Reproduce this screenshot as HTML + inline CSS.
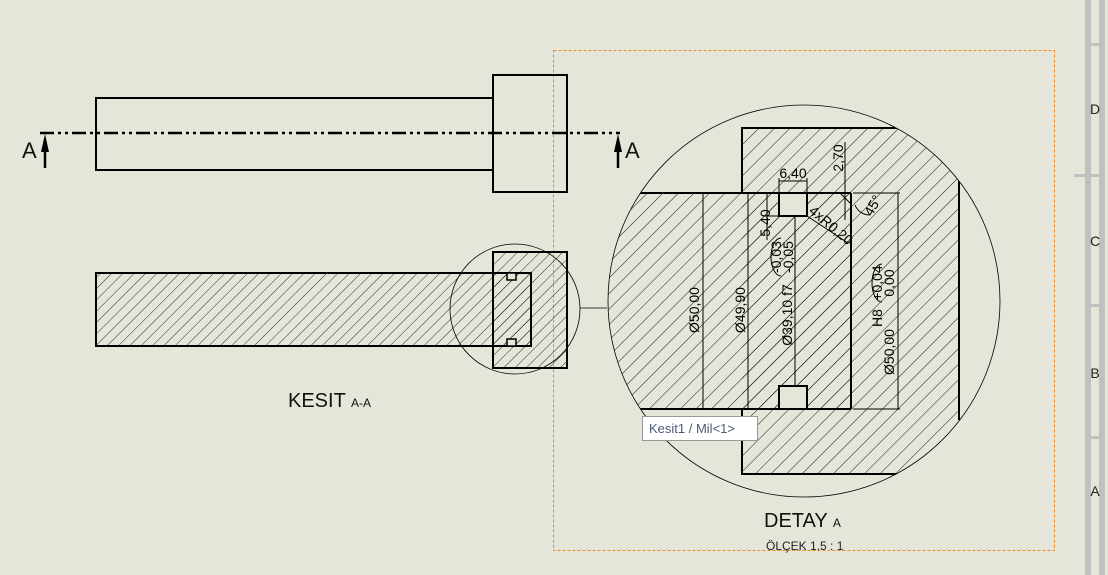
<!DOCTYPE html>
<html><head><meta charset="utf-8"><style>
html,body{margin:0;padding:0;background:#e6e5da;}
svg{display:block;font-family:"Liberation Sans",sans-serif;}
</style></head><body>
<svg width="1108" height="575" viewBox="0 0 1108 575" xmlns="http://www.w3.org/2000/svg">
<defs>
<pattern id="h1" patternUnits="userSpaceOnUse" width="8" height="8" patternTransform="rotate(45)">
<line x1="0" y1="0" x2="0" y2="8" stroke="#000" stroke-width="0.8"/></pattern>
<pattern id="h2" patternUnits="userSpaceOnUse" width="11" height="11" patternTransform="rotate(45)">
<line x1="0" y1="0" x2="0" y2="11" stroke="#000" stroke-width="0.9"/></pattern>
<clipPath id="dc"><circle cx="804" cy="301" r="196"/></clipPath>
</defs>
<rect width="1108" height="575" fill="#e6e5da"/>
<rect x="1085" y="0" width="6" height="575" fill="#c0c0c0"/>
<rect x="1099" y="0" width="6" height="575" fill="#c0c0c0"/>
<rect x="1091" y="43" width="8" height="3" fill="#c0c0c0"/>
<rect x="1074" y="174" width="25" height="3" fill="#c0c0c0"/>
<rect x="1091" y="304" width="8" height="3" fill="#c0c0c0"/>
<rect x="1091" y="436" width="8" height="3" fill="#c0c0c0"/>
<g font-size="14" fill="#222" text-anchor="middle">
<text x="1095" y="114">D</text><text x="1095" y="246">C</text><text x="1095" y="378">B</text><text x="1095" y="496">A</text></g>
<rect x="553.5" y="50.5" width="501" height="500" fill="none" stroke="#f08a1c" stroke-width="1" stroke-dasharray="3,2"/>
<g fill="none" stroke="#000" stroke-width="2">
<rect x="96" y="98" width="397" height="72"/>
<rect x="493" y="75" width="74" height="117"/>
</g>
<line x1="40" y1="133" x2="620" y2="133" stroke="#000" stroke-width="2.5" stroke-dasharray="14,4,3,4,3,4"/>
<g stroke="#000" stroke-width="2.5"><line x1="45" y1="140" x2="45" y2="168"/><line x1="618" y1="140" x2="618" y2="168"/></g>
<polygon points="45,134 41,152 49,152" fill="#000"/><polygon points="618,134 614,152 622,152" fill="#000"/>
<g font-size="22" fill="#111"><text x="22" y="158">A</text><text x="625" y="158">A</text></g>
<rect x="493" y="252" width="74" height="116" fill="url(#h1)" stroke="#000" stroke-width="2"/>
<rect x="96" y="273" width="435" height="73" fill="url(#h1)" stroke="#000" stroke-width="2"/>
<rect x="507" y="273" width="9" height="7" fill="#e6e5da" stroke="#000" stroke-width="1.5"/>
<rect x="507" y="339" width="9" height="7" fill="#e6e5da" stroke="#000" stroke-width="1.5"/>
<circle cx="515" cy="309" r="65" fill="none" stroke="#000" stroke-width="0.8"/>
<line x1="580" y1="308" x2="607" y2="308" stroke="#000" stroke-width="0.8"/>
<text x="288" y="407" font-size="20" fill="#111">KESIT <tspan font-size="12">A-A</tspan></text>
<g clip-path="url(#dc)">
<rect x="742" y="128" width="217" height="346" fill="url(#h2)"/>
<rect x="590" y="193" width="261" height="216" fill="url(#h2)"/>
<rect x="779" y="193" width="28" height="23" fill="#e6e5da" stroke="#000" stroke-width="2"/>
<rect x="779" y="386" width="28" height="23" fill="#e6e5da" stroke="#000" stroke-width="2"/>
<g stroke="#000" stroke-width="2" fill="none">
<line x1="600" y1="193" x2="851" y2="193"/><line x1="600" y1="409" x2="851" y2="409"/>
<line x1="851" y1="193" x2="851" y2="409"/>
<polyline points="742,193 742,128 1000,128"/><polyline points="742,409 742,474 1000,474"/>
<line x1="959" y1="180" x2="959" y2="420"/>
</g>
<g stroke="#000" stroke-width="1" fill="none">
<line x1="703" y1="193" x2="703" y2="409"/><line x1="748" y1="193" x2="748" y2="409"/>
<line x1="795" y1="216" x2="795" y2="386"/><line x1="898" y1="193" x2="898" y2="409"/>
<line x1="853" y1="193" x2="900" y2="193"/><line x1="853" y1="409" x2="900" y2="409"/>
<line x1="767" y1="193" x2="767" y2="240"/><line x1="767" y1="216" x2="779" y2="216"/>
<line x1="779" y1="178" x2="779" y2="192"/><line x1="807" y1="178" x2="807" y2="192"/><line x1="779" y1="181" x2="807" y2="181"/>
<line x1="845" y1="142" x2="845" y2="220"/>
<line x1="807" y1="216" x2="848" y2="243"/>
<path d="M855,205 A16,16 0 0 0 869,215"/>
<line x1="840" y1="193" x2="851" y2="204"/>
<path d="M781,276 a10,19 0 0 1 0,-38 M781,238 a10,19 0 0 0 0,38"/>
<path d="M882,302 a10,19 0 0 1 0,-38 M882,264 a10,19 0 0 0 0,38"/>
</g>
<g fill="#000" font-size="14" text-anchor="middle">
<text transform="translate(699,310) rotate(-90)">Ø50,00</text>
<text transform="translate(745,310) rotate(-90)">Ø49,90</text>
<text transform="translate(792,315) rotate(-90)">Ø39,10 f7</text>
<text transform="translate(781,257) rotate(-90)">-0,03</text>
<text transform="translate(793,257) rotate(-90)">-0,05</text>
<text transform="translate(770,223) rotate(-90)">5,40</text>
<text transform="translate(843,158) rotate(-90)">2,70</text>
<text x="793" y="178">6,40</text>
<text transform="translate(828,229) rotate(40)">4xR0,20</text>
<text transform="translate(877,208) rotate(-60)">45°</text>
<text transform="translate(894,352) rotate(-90)">Ø50,00</text>
<text transform="translate(882,318) rotate(-90)">H8</text>
<text transform="translate(882,283) rotate(-90)">+0,04</text>
<text transform="translate(894,283) rotate(-90)">0,00</text>
</g>
</g>
<circle cx="804" cy="301" r="196" fill="none" stroke="#000" stroke-width="0.8"/>
<rect x="642.5" y="416.5" width="115" height="24" fill="#fff" stroke="#999"/>
<text x="649" y="433" font-size="13" fill="#4d5a78">Kesit1 / Mil&lt;1&gt;</text>
<text x="764" y="527" font-size="20" fill="#111">DETAY <tspan font-size="12">A</tspan></text>
<text x="766" y="550" font-size="12" fill="#222">ÖLÇEK 1.5 : 1</text>
</svg>
</body></html>
